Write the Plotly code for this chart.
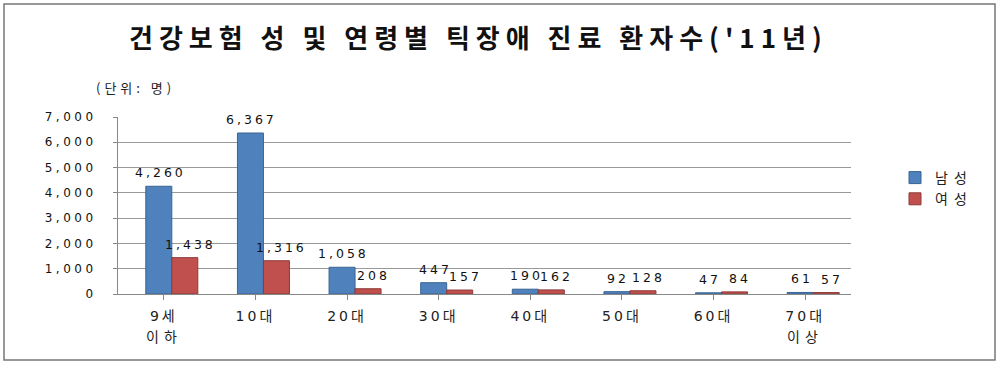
import plotly.graph_objects as go

categories = ["9세 이하", "10대", "20대", "30대", "40대", "50대", "60대", "70대 이상"]
tick_line1 = ["9세", "10대", "20대", "30대", "40대", "50대", "60대", "70대"]
tick_line2 = ["이하", "", "", "", "", "", "", "이상"]
male = [4260, 6367, 1058, 447, 190, 92, 47, 61]
female = [1438, 1316, 208, 157, 162, 128, 84, 57]
y_ticks = [0, 1000, 2000, 3000, 4000, 5000, 6000, 7000]
series_names = ["남성", "여성"]

FONT = "Noto Sans CJK KR"
NUMFONT = "DejaVu Sans"
MIXFONT = "DejaVu Sans, Noto Sans CJK KR"
W, H = 1000, 365
L, R, T, B = 118, 149, 117, 71
pw, ph = W - L - R, H - T - B


def px(x):
    return (x - L) / pw


def py(y):
    return (H - B - y) / ph


def sp(text, ls):
    return f"<span style='letter-spacing:{ls}px'>{text}</span>"


cat_w = pw / len(categories)
BAR_PX = 26
BLUE_OFF, RED_OFF = -18, 8  # px offsets of bar left edges from category centre

fig = go.Figure()
fig.add_trace(go.Bar(
    x=categories, y=male, name=sp(series_names[0], 6),
    width=BAR_PX / cat_w, offset=BLUE_OFF / cat_w,
    marker=dict(color="#4F81BD", line=dict(color="#3A6494", width=1)),
))
fig.add_trace(go.Bar(
    x=categories, y=female, name=sp(series_names[1], 6),
    width=BAR_PX / cat_w, offset=RED_OFF / cat_w,
    marker=dict(color="#C0504D", line=dict(color="#8E3A38", width=1)),
))

annotations = [
    dict(text="<b>" + sp("건강보험 성 및 연령별 틱장애 진료 환자수('11년)", 6) + "</b>",
         xref="paper", yref="paper", x=px(478), y=py(37),
         xanchor="center", yanchor="middle", showarrow=False,
         font=dict(family=FONT, size=26, color="#111")),
    dict(text=sp("(단위: 명)", 4), xref="paper", yref="paper",
         x=px(94), y=py(87), xanchor="left", yanchor="middle",
         showarrow=False, font=dict(family=FONT, size=13, color="#222")),
]
for c, t2 in zip(categories, tick_line2):
    if t2:
        annotations.append(dict(
            text=sp(t2, 5), xref="x", yref="paper", x=c, y=py(336),
            xanchor="center", yanchor="middle", showarrow=False,
            font=dict(family=FONT, size=14, color="#222")))

# data labels, anchored to each bar through the axes
for vals, off in ((male, BLUE_OFF), (female, RED_OFF + 4)):
    for c, v in zip(categories, vals):
        annotations.append(dict(
            text=sp(f"{v:,}", 3), xref="x", yref="y", x=c, y=v,
            xanchor="center", yanchor="bottom", showarrow=False,
            xshift=off + BAR_PX / 2 + 1.5, yshift=4,
            font=dict(family=NUMFONT, size=12.5, color="#111")))

fig.update_layout(
    width=W, height=H,
    margin=dict(l=L, r=R, t=T, b=B),
    paper_bgcolor="white", plot_bgcolor="white",
    barmode="overlay",
    font=dict(family=FONT, size=13, color="#222"),
    showlegend=True,
    legend=dict(x=px(895), y=py(162), xanchor="left", yanchor="top",
                font=dict(family=FONT, size=14, color="#222"),
                itemwidth=30, tracegroupgap=0),
    xaxis=dict(showline=True, linecolor="#888", linewidth=1,
               range=[-0.5, len(categories) - 0.5],
               tickvals=categories, ticktext=[sp(t, 3) for t in tick_line1],
               ticks="outside", ticklen=5, tickcolor="#888",
               ticklabelstandoff=4,
               tickfont=dict(family=MIXFONT, size=14, color="#222"),
               showgrid=False),
    yaxis=dict(range=[0, 7000], tickvals=y_ticks,
               ticktext=[sp(f"{v:,}", 3.5) for v in y_ticks],
               showline=True, linecolor="#888", linewidth=1,
               ticks="outside", ticklen=4, tickcolor="#888",
               ticklabelstandoff=14,
               showgrid=True, gridcolor="#999", gridwidth=1,
               tickfont=dict(family=NUMFONT, size=12, color="#111"),
               zeroline=False),
    annotations=annotations,
    shapes=[
        dict(type="rect", xref="paper", yref="paper",
             x0=px(4), x1=px(995), y0=py(360), y1=py(4),
             line=dict(color="#777", width=1.5), fillcolor="rgba(0,0,0,0)"),
    ],
)

fig.write_html("out.html", config={"displayModeBar": False},
               post_script="document.body.style.margin='0';document.body.style.overflow='hidden';")
